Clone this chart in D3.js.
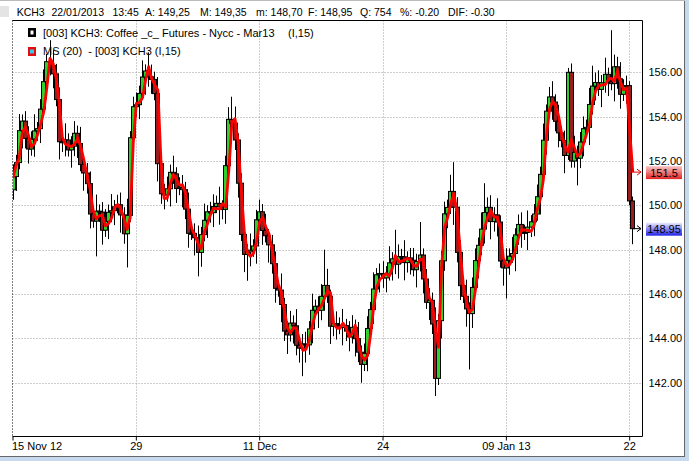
<!DOCTYPE html>
<html><head><meta charset="utf-8">
<script src="https://cdn.jsdelivr.net/npm/d3@7"></script>
<style>body{margin:0;background:#fff;} svg{display:block;} text{font-family:"Liberation Sans",Arial,sans-serif;}</style>
</head><body><svg id="c" width="689" height="461"></svg>
<script>
const xTickIdx=[0,40,80,120,160,200];
const xTickLabels=["15 Nov 12","29","11 Dec","24","09 Jan 13","22"];
const yTicks=[142,144,146,148,150,152,154,156];
const titleParts=["KCH3","22/01/2013","13:45","A: 149,25","M: 149,35","m: 148,70","F: 148,95","Q: 754","%: -0.20","DIF: -0.30"];
const legendMain="[003] KCH3: Coffee _c_ Futures - Nycc - Mar13";
const legendMA="MS (20)  - [003] KCH3 (I,15)";
const lastMA=151.5, lastClose=148.95;

const opens=[150.70,151.30,151.93,153.37,153.80,153.02,152.54,152.99,153.36,153.46,
154.34,155.58,156.48,156.31,155.93,154.77,152.87,152.86,152.95,152.50,
152.67,153.25,152.79,151.84,151.46,150.98,149.61,149.29,149.74,149.70,
148.88,149.28,149.69,149.76,149.94,150.03,149.57,148.72,149.55,153.05,
154.45,154.54,155.05,155.79,156.06,155.80,155.68,155.04,151.88,150.52,
150.47,150.75,151.49,151.42,150.76,150.82,150.71,149.83,148.74,148.74,
148.54,147.88,148.68,149.33,149.71,149.67,149.95,150.09,149.93,149.82,
151.79,153.88,153.71,152.95,151.00,148.69,147.79,147.90,147.98,148.17,
149.35,149.71,148.87,148.63,148.22,147.37,146.26,146.18,145.53,144.33,
144.16,144.69,144.57,143.69,143.56,143.75,143.71,144.43,145.27,145.45,
145.27,145.90,146.39,145.90,144.55,144.67,144.60,144.49,144.58,144.33,
144.07,144.50,143.99,143.38,142.83,143.32,144.45,145.30,146.23,146.87,
146.93,146.73,146.91,147.41,147.59,147.35,147.69,147.68,147.42,147.63,
147.53,147.10,147.47,147.76,146.68,145.63,145.72,144.65,142.20,144.80,
147.50,149.62,149.91,150.63,149.92,147.88,146.38,145.90,145.33,145.12,
146.30,147.51,148.20,148.93,149.68,149.91,149.27,149.57,149.25,147.49,
147.18,147.52,147.71,147.83,148.67,149.14,148.74,148.78,149.02,149.26,
149.61,150.39,151.40,152.94,154.25,154.89,154.66,153.79,153.27,152.92,
152.25,156.00,152.00,152.39,152.13,152.86,153.46,153.52,154.55,155.38,
155.54,155.23,155.53,155.91,155.58,155.49,156.25,155.71,155.01,155.39,
155.40,150.20];
const closes=[151.30,151.93,153.37,153.80,153.02,152.54,152.99,153.36,153.46,154.34,
155.58,156.48,156.31,155.93,154.77,152.87,152.86,152.95,152.50,152.67,
153.25,152.79,151.84,151.46,150.98,149.61,149.29,149.74,149.70,148.88,
149.28,149.69,149.76,149.94,150.03,149.57,148.72,149.55,153.05,154.45,
154.54,155.05,155.79,156.06,155.80,155.68,155.04,151.88,150.52,150.47,
150.75,151.49,151.42,150.76,150.82,150.71,149.83,148.74,148.74,148.54,
147.88,148.68,149.33,149.71,149.67,149.95,150.09,149.93,149.82,151.79,
153.88,153.71,152.95,151.00,148.69,147.79,147.90,147.98,148.17,149.35,
149.71,148.87,148.63,148.22,147.37,146.26,146.18,145.53,144.33,144.16,
144.69,144.57,143.69,143.56,143.75,143.71,144.43,145.27,145.45,145.27,
145.90,146.39,145.90,144.55,144.67,144.60,144.49,144.58,144.33,144.07,
144.50,143.99,143.38,142.83,143.32,144.45,145.30,146.23,146.87,146.93,
146.73,146.91,147.41,147.59,147.35,147.69,147.68,147.42,147.63,147.53,
147.10,147.47,147.76,146.68,145.63,145.72,144.65,142.20,144.80,147.50,
149.62,149.91,150.63,149.92,147.88,146.38,145.90,145.33,145.12,146.30,
147.51,148.20,148.93,149.68,149.91,149.27,149.57,149.25,147.49,147.18,
147.52,147.71,147.83,148.67,149.14,148.74,148.78,149.02,149.26,149.61,
150.39,151.40,152.94,154.25,154.89,154.66,153.79,153.27,152.92,152.25,
156.00,152.00,152.39,152.13,152.86,153.46,153.52,154.55,155.38,155.54,
155.23,155.53,155.91,155.58,155.49,156.25,155.71,155.01,155.39,155.40,
150.20,148.95];
const highs=[151.85,152.28,154.12,154.10,154.25,153.57,153.34,154.11,153.76,154.79,
156.13,156.83,157.45,157.00,156.38,155.32,153.22,153.70,153.25,153.12,
153.80,153.60,153.54,152.14,151.91,151.53,149.96,150.49,150.04,150.15,
149.83,150.04,150.51,150.24,150.48,150.58,149.92,150.30,153.35,154.90,
155.09,155.40,156.54,156.36,156.90,156.35,156.03,155.79,152.18,150.97,
151.30,151.84,152.24,151.72,151.27,151.37,151.06,150.58,149.04,149.19,
149.09,149.03,150.08,150.01,150.16,150.50,150.44,150.84,150.23,152.24,
154.43,154.90,154.46,153.25,151.45,149.24,148.25,148.73,148.47,149.80,
150.26,150.06,149.62,148.93,148.67,147.92,146.61,146.93,145.83,144.78,
145.24,145.04,145.32,143.99,144.20,144.30,144.78,146.02,145.75,145.90,
146.45,148.00,147.14,146.20,145.12,145.22,144.95,145.33,144.88,144.78,
145.05,144.85,144.74,143.68,143.77,145.00,145.65,146.98,147.17,147.38,
147.48,147.26,148.16,147.89,148.90,148.24,148.04,148.43,147.93,148.08,
148.08,147.82,149.25,148.06,147.13,146.27,146.07,145.40,145.10,147.95,
150.17,150.26,151.38,151.95,150.37,148.43,146.73,146.65,145.63,146.75,
148.06,148.55,149.68,151.00,150.36,150.46,149.92,150.32,149.55,147.94,
148.07,148.06,148.58,148.97,149.59,149.69,149.13,149.77,149.56,150.06,
150.94,151.75,153.69,154.55,155.34,155.60,155.01,154.54,153.57,153.37,
156.20,156.40,153.14,152.69,153.31,154.01,153.87,155.30,156.30,155.99,
156.09,155.88,156.66,156.21,157.90,156.80,156.70,156.46,155.69,155.85,
155.60,150.40];
const lows=[150.25,150.65,151.63,152.57,152.57,151.89,152.24,152.19,152.91,152.81,
154.04,154.78,155.86,155.28,154.47,152.07,152.41,152.21,152.20,151.70,
152.22,152.14,151.54,150.66,150.53,148.96,148.99,147.70,149.25,148.23,
148.58,148.48,149.24,149.11,149.64,148.77,148.27,147.20,149.25,152.25,
154.00,153.89,154.75,154.99,155.35,155.03,154.74,151.08,150.07,149.82,
150.17,149.95,150.97,150.11,150.46,149.91,149.38,148.09,148.44,147.74,
146.80,147.23,148.38,148.53,149.22,149.02,149.65,149.13,149.37,149.17,
151.49,152.91,152.50,150.35,148.39,146.99,146.60,147.25,147.68,147.37,
148.90,148.22,148.33,147.42,146.92,145.61,145.88,144.73,143.88,143.30,
143.86,143.77,143.24,142.91,142.30,142.91,143.26,143.78,144.97,144.47,
144.82,145.25,145.60,143.75,144.10,143.95,144.19,143.69,143.88,143.42,
143.77,143.19,142.93,142.00,142.53,142.52,144.00,144.65,145.93,146.07,
146.28,146.08,146.61,146.61,146.90,146.70,147.38,146.62,146.97,146.88,
146.80,146.30,147.02,146.03,145.33,144.83,144.20,141.40,141.90,144.00,
147.05,148.97,149.61,149.12,147.43,145.73,145.60,144.53,142.60,144.47,
146.00,146.71,147.75,148.28,149.38,148.47,148.82,148.60,147.19,146.38,
145.80,146.87,147.41,147.03,148.22,148.09,148.44,147.98,148.57,148.61,
149.31,149.59,150.95,152.29,153.95,153.86,153.34,152.62,152.62,151.45,
152.05,151.70,151.70,150.90,151.68,152.21,153.16,152.72,154.10,154.73,
154.93,154.43,155.08,154.93,155.19,154.69,155.26,154.36,154.71,154.59,
150.00,148.25];
const ma=[151.23,151.81,152.13,153.27,153.55,153.17,152.64,152.79,153.21,153.66,
154.24,155.33,156.63,156.41,155.73,154.62,153.07,152.76,152.70,152.65,
152.77,153.05,152.64,152.04,151.36,150.73,149.76,149.39,149.54,149.55,
149.08,149.18,149.44,149.91,150.04,149.83,149.42,148.92,149.45,152.80,
154.60,154.64,154.85,155.64,156.26,155.70,155.43,155.19,151.98,150.32,
150.32,150.95,151.39,151.17,150.91,150.92,150.51,149.68,148.94,148.64,
148.29,148.03,148.78,149.13,149.56,149.87,149.85,149.84,150.08,149.92,
151.59,153.73,153.91,152.85,150.75,148.84,147.89,147.70,147.83,148.37,
149.25,149.46,149.02,148.73,148.02,147.22,146.46,146.08,145.28,144.48,
144.26,144.49,144.42,143.89,143.46,143.50,143.86,144.53,145.07,145.30,
145.47,145.80,146.14,146.05,144.65,144.47,144.45,144.69,144.48,144.08,
144.22,144.60,143.79,143.23,143.03,143.22,144.20,145.45,146.33,146.67,
146.78,146.93,146.81,147.16,147.74,147.45,147.49,147.53,147.62,147.53,
147.28,147.25,147.57,147.56,146.53,145.83,145.62,144.40,143.60,147.23,
149.01,149.47,150.11,150.53,149.67,148.03,146.48,145.70,145.18,145.32,
146.20,147.26,148.35,149.03,149.48,149.76,149.47,149.47,149.00,147.64,
147.28,147.32,147.56,148.03,148.57,148.89,148.89,148.88,148.82,149.11,
149.81,150.29,151.15,153.09,154.35,154.69,154.51,153.99,153.17,152.67,
152.40,152.96,152.64,152.24,152.33,152.76,153.21,153.67,154.65,155.18,
155.39,155.43,155.43,155.66,155.73,155.59,156.05,155.56,155.21,155.29,
153.40,151.50];

const svg=d3.select("#c");
const L=12.5,T=20.5,R=642.5,B=436.5;
const x=d3.scaleLinear().domain([0,200]).range([12.5,629.2]);
const y=d3.scaleLinear().domain([139.6,158.36]).range([436,20]);

// window chrome
svg.append("rect").attr("width",689).attr("height",461).attr("fill","#fff");
svg.append("rect").attr("x",0).attr("y",457).attr("width",689).attr("height",4).attr("fill","#c6d9ee");
svg.append("rect").attr("x",685).attr("y",0).attr("width",4).attr("height",461).attr("fill","#c6d9ee");
svg.append("line").attr("x1",0).attr("x2",685).attr("y1",456.5).attr("y2",456.5).attr("stroke","#666");
svg.append("line").attr("x1",684.5).attr("x2",684.5).attr("y1",0).attr("y2",457).attr("stroke","#666");
svg.append("line").attr("x1",0).attr("x2",685).attr("y1",0.5).attr("y2",0.5).attr("stroke","#bbb");
svg.append("rect").attr("x",0).attr("y",6).attr("width",9).attr("height",11).attr("fill","#e4e4e4");

// title
const titleX=[16.7,51.5,112.5,145,200,256,308,360,400,448];
svg.append("g").selectAll("text").data(titleParts).join("text")
  .attr("x",(d,i)=>titleX[i]).attr("y",16).attr("font-size",10.5).attr("fill","#000").text(d=>d);

// grid
const g=svg.append("g");
g.selectAll(".hg").data(yTicks).join("line")
  .attr("x1",L).attr("x2",R).attr("y1",d=>Math.round(y(d))+0.5).attr("y2",d=>Math.round(y(d))+0.5)
  .attr("stroke","#9a9a9a").attr("stroke-dasharray","1,2");
g.selectAll(".vg").data(xTickIdx.slice(1)).join("line")
  .attr("x1",d=>Math.round(x(d))+0.5).attr("x2",d=>Math.round(x(d))+0.5).attr("y1",T).attr("y2",B)
  .attr("stroke","#9a9a9a").attr("stroke-dasharray","1,2");
g.append("line").attr("x1",L).attr("x2",L).attr("y1",T).attr("y2",B).attr("stroke","#000").attr("stroke-dasharray","1,2");

// legend
svg.append("rect").attr("x",28).attr("y",28).attr("width",8).attr("height",9).attr("fill","#000");
svg.append("rect").attr("x",30.5).attr("y",30.5).attr("width",3).attr("height",4).attr("fill","#fff");
svg.append("text").attr("x",43).attr("y",37).attr("font-size",11).text(legendMain);
svg.append("text").attr("x",288).attr("y",37).attr("font-size",11).text("(I,15)");
svg.append("rect").attr("x",28).attr("y",47).attr("width",8).attr("height",9).attr("fill","#e01010");
svg.append("rect").attr("x",30).attr("y",49.5).attr("width",4).attr("height",4).attr("fill","#3cc8e8");
svg.append("text").attr("x",43).attr("y",55).attr("font-size",11).attr("xml:space","preserve").text(legendMA);

// clip
svg.append("clipPath").attr("id","pc").append("rect").attr("x",13).attr("y",21).attr("width",629).attr("height",415);
const cg=svg.append("g").attr("clip-path","url(#pc)");
const idx=d3.range(closes.length);
cg.selectAll(".w").data(idx).join("line")
  .attr("x1",i=>Math.round(x(i))+0.5).attr("x2",i=>Math.round(x(i))+0.5)
  .attr("y1",i=>y(highs[i])).attr("y2",i=>y(lows[i])).attr("stroke","#000").attr("stroke-width",1);
cg.selectAll(".b").data(idx).join("rect")
  .attr("x",i=>Math.round(x(i))-1.5).attr("width",4)
  .attr("y",i=>y(Math.max(opens[i],closes[i])))
  .attr("height",i=>Math.max(1,Math.abs(y(opens[i])-y(closes[i]))))
  .attr("fill",i=>closes[i]>=opens[i]?"#2fd12f":"#961e1e")
  .attr("stroke","#000").attr("stroke-width",1);
cg.append("path").datum(ma)
  .attr("d",d3.line().x((d,i)=>x(i)+0.5).y(d=>y(d)))
  .attr("fill","none").attr("stroke","#ff0000").attr("stroke-width",2.8).attr("stroke-linejoin","round");

// frame
svg.append("path").attr("d",`M${L},${T}H${R}V${B}H${L}`).attr("fill","none").attr("stroke","#000");

// axes
const ya=svg.append("g").attr("transform",`translate(${R},0)`)
  .call(d3.axisRight(y).tickValues(yTicks).tickFormat(d3.format(".2f")).tickSize(0).tickPadding(6));
ya.select(".domain").remove();
ya.selectAll("text").attr("font-size",11).attr("font-family","Liberation Sans, Arial, sans-serif").attr("fill","#000");
const xa=svg.append("g").attr("transform",`translate(0,${B})`)
  .call(d3.axisBottom(x).tickValues(xTickIdx).tickFormat((d,i)=>xTickLabels[i]).tickSize(4).tickPadding(2));
xa.select(".domain").remove();
xa.selectAll("line").attr("stroke","#000");
xa.selectAll("text").attr("font-size",11).attr("font-family","Liberation Sans, Arial, sans-serif").attr("fill","#000");
xa.selectAll(".tick").filter((d,i)=>i===0).select("text").attr("text-anchor","start").attr("dx",-1);

// value boxes
const defs=svg.append("defs");
const gr=defs.append("linearGradient").attr("id","gr").attr("x1",0).attr("x2",0).attr("y1",0).attr("y2",1);
gr.append("stop").attr("offset","0%").attr("stop-color","#f7c4c4");
gr.append("stop").attr("offset","100%").attr("stop-color","#e42424");
const gb=defs.append("linearGradient").attr("id","gb").attr("x1",0).attr("x2",0).attr("y1",0).attr("y2",1);
gb.append("stop").attr("offset","0%").attr("stop-color","#ececff");
gb.append("stop").attr("offset","100%").attr("stop-color","#2020e6");
function box(v,fill,label){
  const yy=y(v);
  svg.append("rect").attr("x",646).attr("y",yy-6).attr("width",36).attr("height",13).attr("fill",fill);
  svg.append("text").attr("x",664).attr("y",yy+4.5).attr("text-anchor","middle").attr("font-size",11).text(label);
}
box(lastMA,"url(#gr)","151.5");
box(lastClose,"url(#gb)","148.95");
// arrows
const ym=y(lastMA), yc=y(lastClose);
svg.append("path").attr("d",`M629.5,${ym-7}V${ym}H641M637,${ym-3}L641,${ym}L637,${ym+3}`).attr("fill","none").attr("stroke","#e00000");
svg.append("path").attr("d",`M632,${yc}H641M637,${yc-3}L641,${yc}L637,${yc+3}`).attr("fill","none").attr("stroke","#000");
</script></body></html>
